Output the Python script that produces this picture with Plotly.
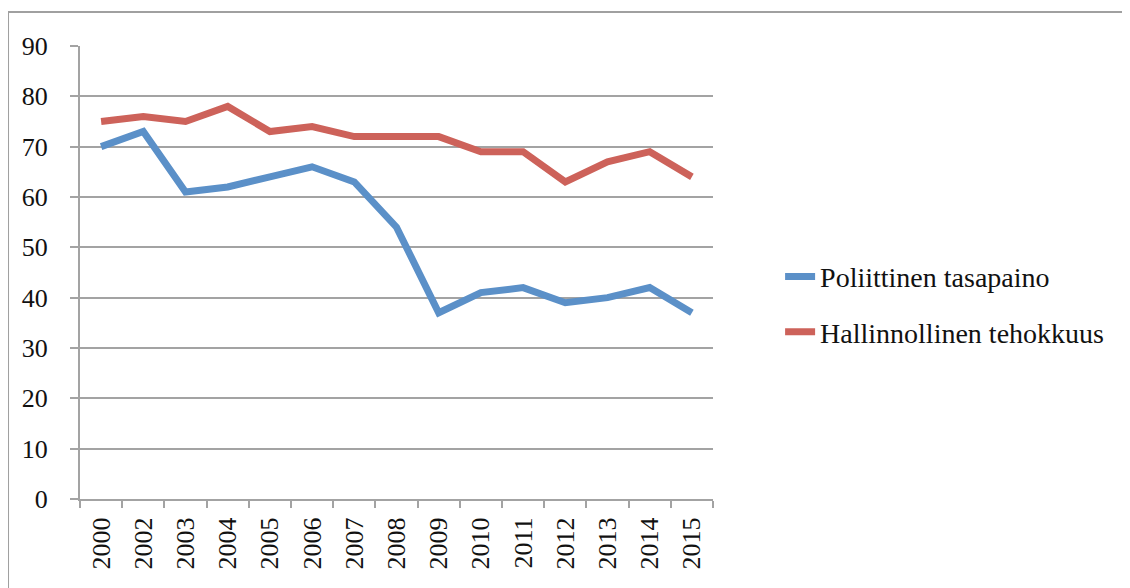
import plotly.graph_objects as go

years = ["2000", "2002", "2003", "2004", "2005", "2006", "2007", "2008",
         "2009", "2010", "2011", "2012", "2013", "2014", "2015"]
poliittinen = [70, 73, 61, 62, 64, 66, 63, 54, 37, 41, 42, 39, 40, 42, 37]
hallinnollinen = [75, 76, 75, 78, 73, 74, 72, 72, 72, 69, 69, 63, 67, 69, 64]

series = [
    ("Poliittinen tasapaino", poliittinen, "#5b90c8"),
    ("Hallinnollinen tehokkuus", hallinnollinen, "#cd625a"),
]

GRID = "#a3a3a3"
SERIF = "Liberation Serif, Times New Roman, serif"

fig = go.Figure()
for i, (name, values, color) in enumerate(series):
    fig.add_trace(go.Scatter(
        x=years, y=values, name=name, mode="lines", legendgroup=str(i),
        line=dict(color=color, width=7),
    ))

# page body has an 8px margin, so the figure is a bit smaller than the window
fig.update_layout(
    width=1122, height=580,
    margin=dict(l=72, r=417, t=38, b=89),
    plot_bgcolor="white", paper_bgcolor="white",
    font=dict(family=SERIF, size=26, color="#111111"),
    showlegend=True,
    legend=dict(x=1.106, y=0.43, xanchor="left", yanchor="middle",
                font=dict(size=28), tracegroupgap=16,
                bgcolor="rgba(0,0,0,0)"),
    shapes=[dict(type="rect", xref="paper", yref="paper",
                 x0=-0.1137, x1=1.8, y0=-0.5, y1=1.0751,
                 line=dict(color="#a0a0a0", width=2), layer="below")],
)
fig.update_xaxes(
    type="category", range=[-0.5, len(years) - 0.5], tickangle=-90,
    tickson="boundaries", automargin=False,
    ticks="outside", ticklen=7, tickcolor=GRID, tickwidth=2,
    showline=True, linecolor=GRID, linewidth=2,
    showgrid=False, ticklabelstandoff=6,
)
fig.update_yaxes(
    range=[0, 90], dtick=10, ticks="outside", ticklen=8, automargin=False,
    tickcolor=GRID, tickwidth=2,
    showline=True, linecolor=GRID, linewidth=2,
    showgrid=True, gridcolor=GRID, gridwidth=2, zeroline=False,
    ticklabelstandoff=17,
)

fig.write_html("out.html")
